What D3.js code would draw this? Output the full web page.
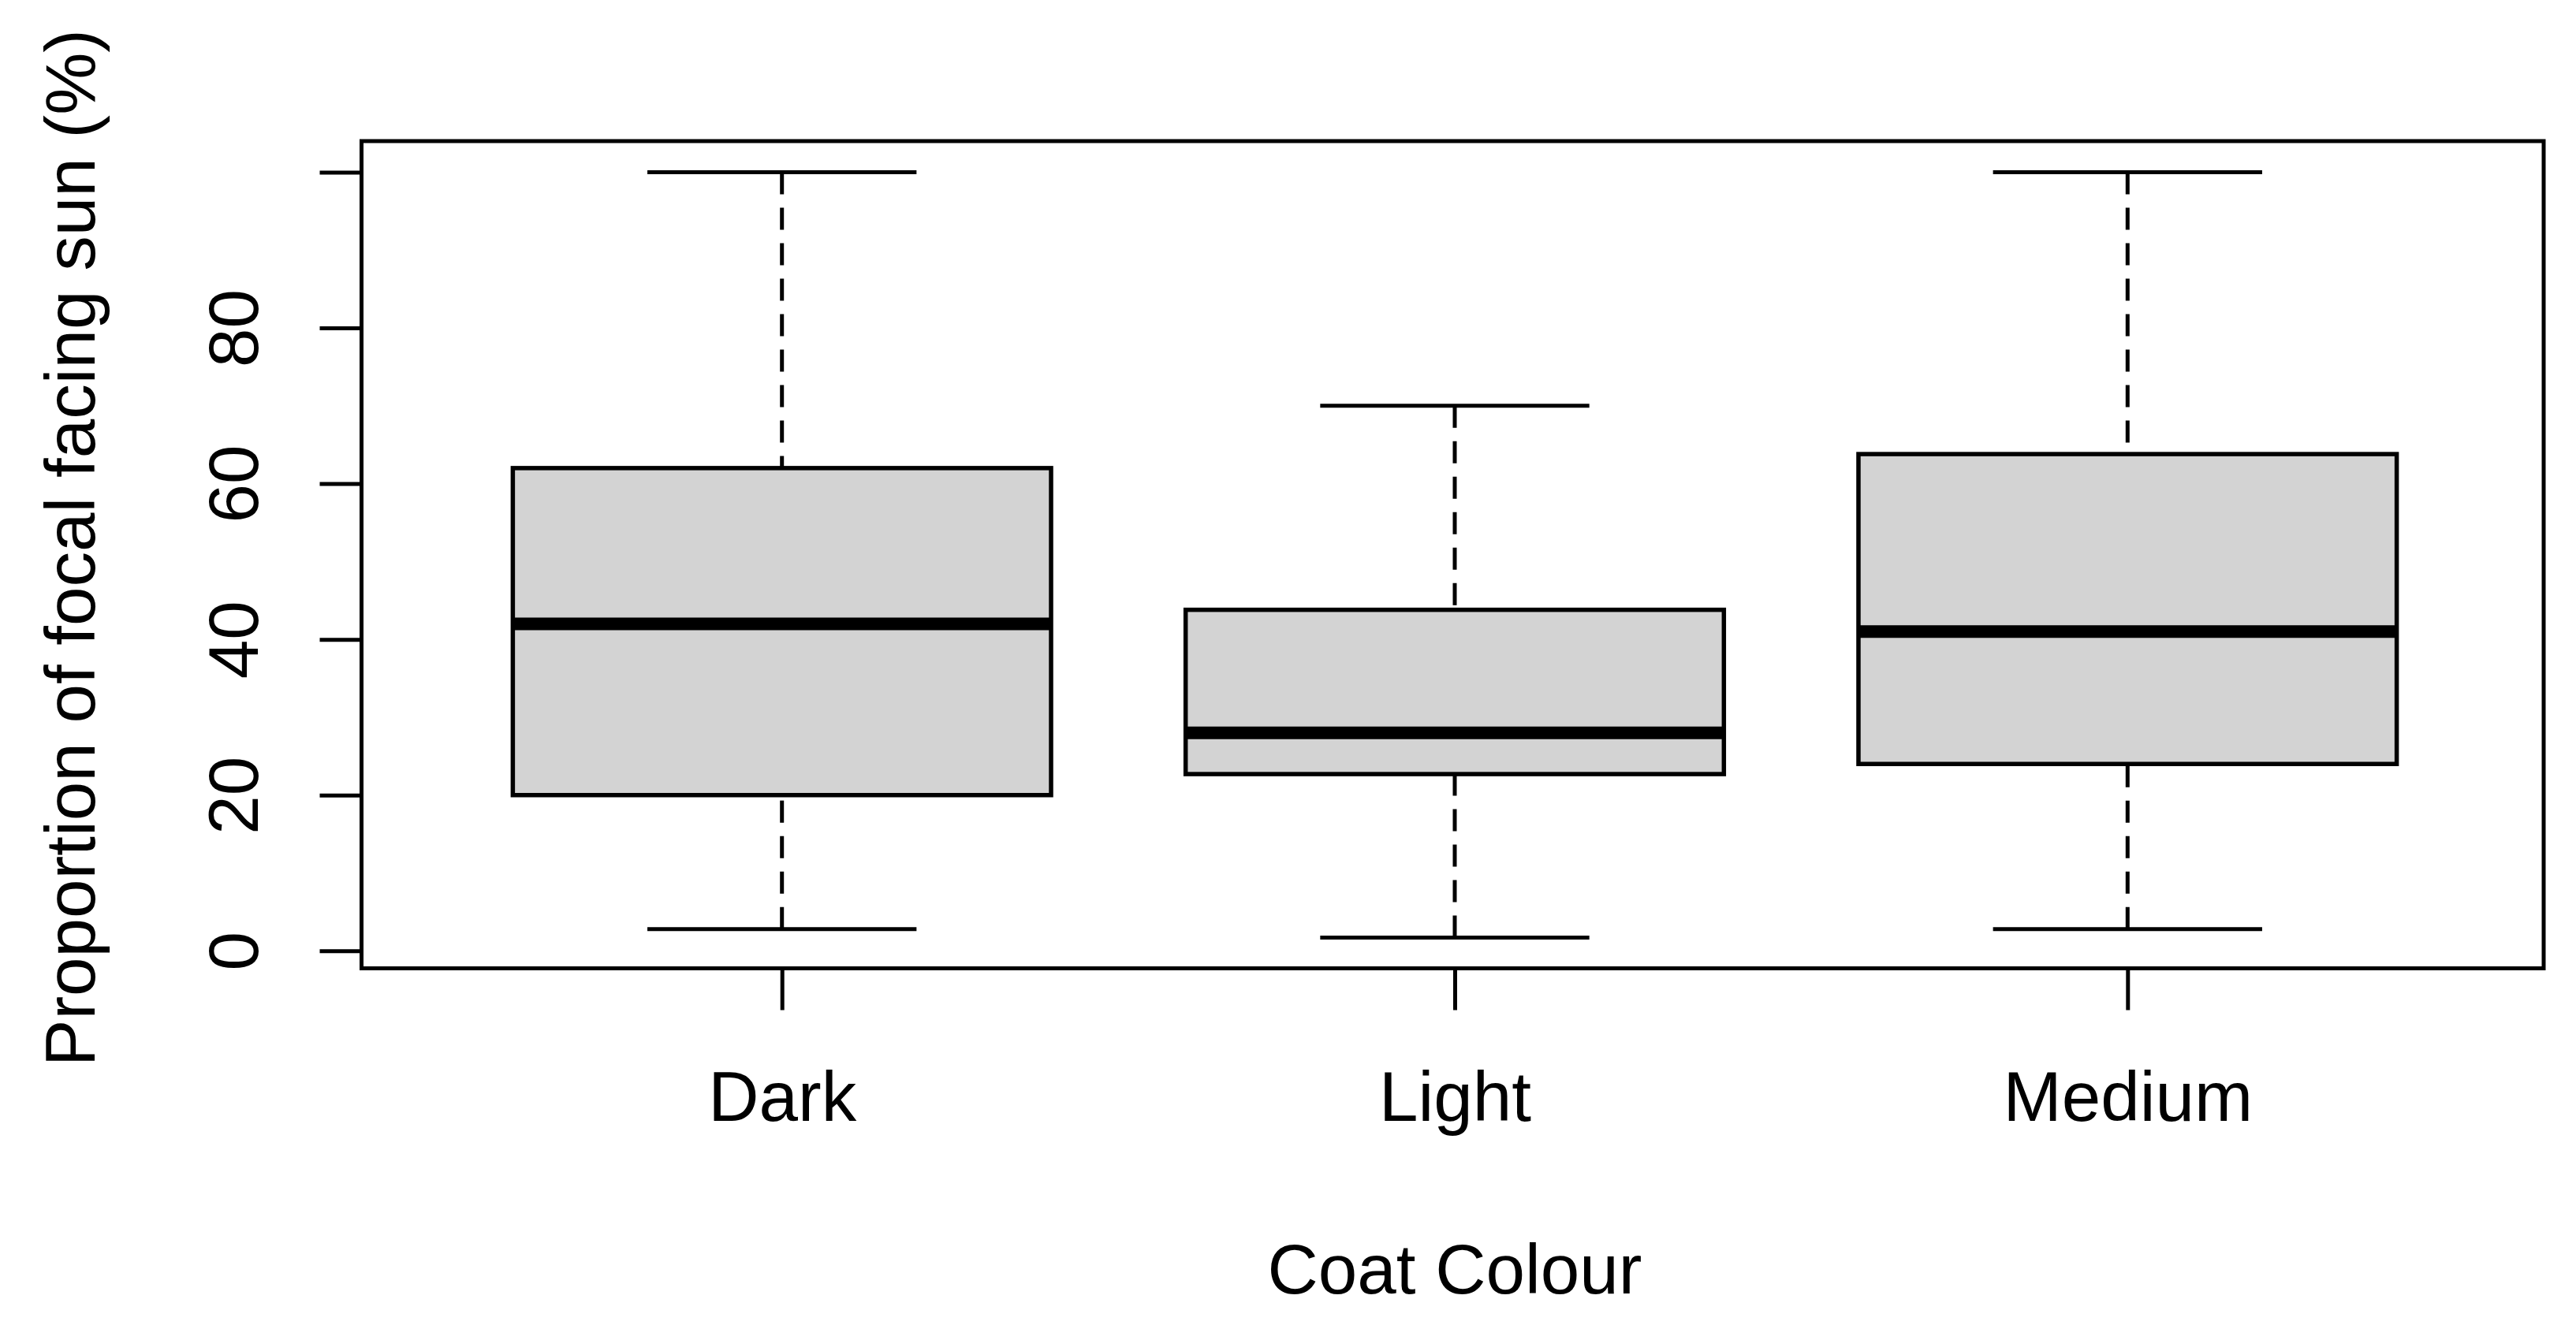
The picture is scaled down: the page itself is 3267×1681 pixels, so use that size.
<!DOCTYPE html>
<html><head><meta charset="utf-8">
<script src="https://cdn.jsdelivr.net/npm/d3@7"></script>
<style>body{margin:0;background:#fff;overflow:hidden}</style>
</head><body>
<script>
// ---- data ----
const categories = ["Dark", "Light", "Medium"];
const whiskerLow  = [2.8, 1.7, 2.8];
const q1          = [20, 22.7, 24];
const medians     = [42, 28, 41];
const q3          = [62, 43.8, 63.8];
const whiskerHigh = [100, 70, 100];
const yTicks      = [0, 20, 40, 60, 80, 100];
const yTickLabels = ["0", "20", "40", "60", "80", ""];
const xTitle = "Coat Colour";
const yTitle = "Proportion of focal facing sun (%)";

// ---- layout ----
const W = 3267, H = 1681;
const frame = {l: 458.5, r: 3226, t: 179, b: 1228.5};
const FONT = "'Liberation Sans', Arial, sans-serif";
const FS = 89;

const svg = d3.select("body").append("svg")
  .attr("width", W).attr("height", H)
  .style("background", "#fff");

const x = d3.scaleLinear().domain([1, 3]).range([991.7, 2698.3]);
const y = d3.scaleLinear().domain([0, 100]).range([1206.3, 218.5]);
const halfBox = x(1.4) - x(1);     // boxwex 0.8
const halfCap = x(1.2) - x(1);     // staple half width

const data = categories.map((c, i) => ({
  c, i: i + 1, lo: whiskerLow[i], q1: q1[i], med: medians[i], q3: q3[i], hi: whiskerHigh[i]
}));

const g = svg.append("g");

// whiskers (dashed), drawn from whisker end toward hinge
const wg = g.selectAll("g.box").data(data).enter().append("g").attr("class", "box");
wg.append("line")
  .attr("x1", d => x(d.i)).attr("x2", d => x(d.i))
  .attr("y1", d => y(d.lo)).attr("y2", d => y(d.q1))
  .attr("stroke", "#000").attr("stroke-width", 5).attr("stroke-dasharray", "28,17");
wg.append("line")
  .attr("x1", d => x(d.i)).attr("x2", d => x(d.i))
  .attr("y1", d => y(d.hi)).attr("y2", d => y(d.q3))
  .attr("stroke", "#000").attr("stroke-width", 5).attr("stroke-dasharray", "28,17");
// staples
wg.append("line")
  .attr("x1", d => x(d.i) - halfCap).attr("x2", d => x(d.i) + halfCap)
  .attr("y1", d => y(d.lo)).attr("y2", d => y(d.lo))
  .attr("stroke", "#000").attr("stroke-width", 5);
wg.append("line")
  .attr("x1", d => x(d.i) - halfCap).attr("x2", d => x(d.i) + halfCap)
  .attr("y1", d => y(d.hi)).attr("y2", d => y(d.hi))
  .attr("stroke", "#000").attr("stroke-width", 5);
// boxes
wg.append("rect")
  .attr("x", d => x(d.i) - halfBox).attr("width", 2 * halfBox)
  .attr("y", d => y(d.q3)).attr("height", d => y(d.q1) - y(d.q3))
  .attr("fill", "#d3d3d3").attr("stroke", "#000").attr("stroke-width", 5.5);
// medians
wg.append("line")
  .attr("x1", d => x(d.i) - halfBox).attr("x2", d => x(d.i) + halfBox)
  .attr("y1", d => y(d.med)).attr("y2", d => y(d.med))
  .attr("stroke", "#000").attr("stroke-width", 16);

// frame
svg.append("rect")
  .attr("x", frame.l).attr("y", frame.t)
  .attr("width", frame.r - frame.l).attr("height", frame.b - frame.t)
  .attr("fill", "none").attr("stroke", "#000").attr("stroke-width", 5);

// y axis
const yAxis = svg.append("g")
  .attr("transform", `translate(${frame.l},0)`)
  .call(d3.axisLeft(y).tickValues(yTicks).tickSize(53)
        .tickFormat((d, i) => yTickLabels[i]));
yAxis.select(".domain").remove();
yAxis.selectAll(".tick line").attr("stroke", "#000").attr("stroke-width", 5);
yAxis.selectAll(".tick text")
  .attr("x", null).attr("dy", null)
  .attr("transform", "translate(-131.5,0) rotate(-90)")
  .attr("text-anchor", "middle")
  .attr("fill", "#000")
  .style("font-family", FONT).style("font-size", FS + "px");

// x axis
const xAxis = svg.append("g")
  .attr("transform", `translate(0,${frame.b})`)
  .call(d3.axisBottom(x).tickValues([1, 2, 3]).tickSize(53)
        .tickFormat(d => categories[d - 1]));
xAxis.select(".domain").remove();
xAxis.selectAll(".tick line").attr("stroke", "#000").attr("stroke-width", 5);
xAxis.selectAll(".tick text")
  .attr("y", 193.5).attr("dy", null)
  .attr("fill", "#000")
  .style("font-family", FONT).style("font-size", FS + "px");

// titles
svg.append("text")
  .attr("x", x(2)).attr("y", 1641)
  .attr("text-anchor", "middle")
  .style("font-family", FONT).style("font-size", FS + "px")
  .text(xTitle);
svg.append("text")
  .attr("transform", `translate(120,695) rotate(-90)`)
  .attr("text-anchor", "middle")
  .style("font-family", FONT).style("font-size", FS + "px")
  .text(yTitle);
</script>
</body></html>
